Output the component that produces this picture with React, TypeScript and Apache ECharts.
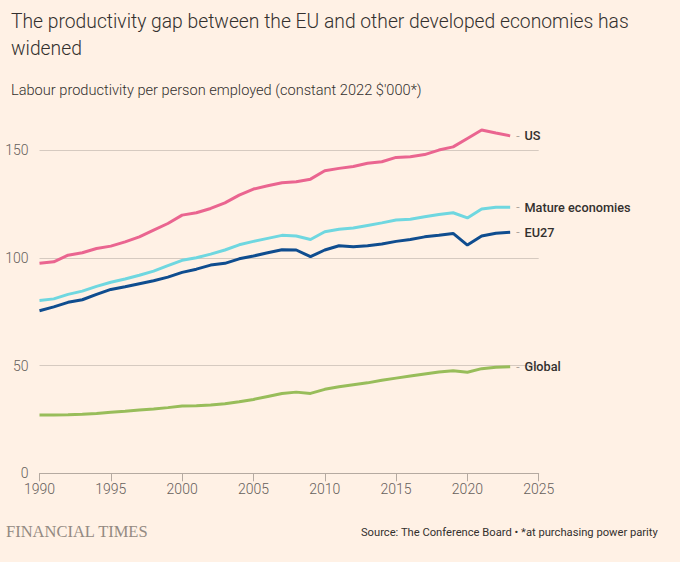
import React, { useEffect, useRef } from "react";
import * as echarts from "echarts";

const years = [
  1990, 1991, 1992, 1993, 1994, 1995, 1996, 1997, 1998, 1999, 2000, 2001, 2002, 2003, 2004, 2005, 2006,
  2007, 2008, 2009, 2010, 2011, 2012, 2013, 2014, 2015, 2016, 2017, 2018, 2019, 2020, 2021, 2022, 2023,
];
const usValues = [
  97.5, 98.2, 101.3, 102.4, 104.4, 105.5, 107.5, 109.8, 112.9, 116, 119.9, 121, 123, 125.6, 129.2, 132,
  133.5, 134.9, 135.4, 136.6, 140.5, 141.6, 142.5, 144, 144.7, 146.7, 147, 148, 150.1, 151.6, 155.5, 159.4,
  158, 156.7,
];
const matureValues = [
  80.3, 81, 83.1, 84.6, 86.8, 88.7, 90.2, 92, 93.9, 96.4, 98.9, 100.1, 101.8, 103.7, 106.1, 107.7, 109.1,
  110.5, 110.2, 108.6, 112.2, 113.3, 113.9, 115.1, 116.3, 117.6, 118, 119.1, 120.2, 121, 118.6, 122.7,
  123.5, 123.5,
];
const eu27Values = [
  75.5, 77.3, 79.4, 80.6, 83.1, 85.4, 86.6, 88, 89.4, 91.1, 93.3, 94.8, 96.7, 97.5, 99.6, 100.9, 102.4,
  103.8, 103.7, 100.6, 103.7, 105.7, 105.2, 105.7, 106.5, 107.7, 108.6, 109.8, 110.5, 111.4, 106, 110.2,
  111.5, 111.9,
];
const globalValues = [
  27.1, 27.1, 27.2, 27.4, 27.8, 28.3, 28.8, 29.4, 29.9, 30.5, 31.2, 31.4, 31.7, 32.3, 33.2, 34.3, 35.7,
  37.1, 37.7, 37.1, 39, 40.2, 41.1, 42, 43.2, 44.2, 45.2, 46.1, 47, 47.6, 46.9, 48.6, 49.2, 49.5,
];

const seriesNames = ["US", "Mature economies", "EU27", "Global"];
const seriesColors = ["#ea6590", "#6fd7e0", "#0f4d8f", "#98bd5a"];

const titleText = "The productivity gap between the EU and other developed economies has\nwidened";
const subtitleText = "Labour productivity per person employed (constant 2022 $'000*)";
const sourceText = "Source: The Conference Board \u2022 *at purchasing power parity";
const brandText = "FINANCIAL TIMES";

const FONT = "Roboto, 'Noto Sans', sans-serif";

export default function App() {
  const ref = useRef<HTMLDivElement>(null);
  useEffect(() => {
    if (!ref.current) return;
    const chart = echarts.init(ref.current, undefined, { renderer: "svg" });
    const allValues = [usValues, matureValues, eu27Values, globalValues];
    const series = seriesNames.map((name, i) => ({
      name,
      type: "line",
      data: years.map((y, j) => [y, allValues[i][j]]),
      showSymbol: false,
      clip: false,
      lineStyle: { color: seriesColors[i], width: 3 },
      itemStyle: { color: seriesColors[i] },
      emphasis: { disabled: true },
      endLabel: {
        show: true,
        distance: 6,
        formatter: () => `{d|-}{n|${name}}`,
        rich: {
          d: { color: "#b0a69d", fontSize: 12, fontFamily: FONT, padding: [0, 5, 0, 0] },
          n: { color: "#33302e", fontSize: 12.7, fontWeight: 500, fontFamily: FONT },
        },
      },
    }));
    chart.setOption({
      animation: false,
      backgroundColor: "#fff1e5",
      title: [
        {
          text: titleText,
          left: 6,
          top: 3,
          textStyle: { fontSize: 19.3, lineHeight: 27, fontWeight: 300, color: "#33302e", fontFamily: FONT },
        },
        {
          text: subtitleText,
          left: 6,
          top: 76,
          textStyle: { fontSize: 14.6, lineHeight: 18, fontWeight: 300, color: "#33302e", fontFamily: FONT },
        },
      ],
      grid: { left: 39.5, right: 141.3, top: 150.3, bottom: 88.7, containLabel: false },
      xAxis: {
        type: "value",
        min: 1990,
        max: 2025,
        interval: 5,
        axisLine: { show: true, lineStyle: { color: "#b5aaa1", width: 1 } },
        axisTick: { show: true, length: 8, lineStyle: { color: "#b5aaa1" } },
        axisLabel: { color: "#66605c", fontSize: 14, fontWeight: 300, fontFamily: FONT, margin: 9, formatter: (v: number) => String(v) },
        splitLine: { show: false },
      },
      yAxis: {
        type: "value",
        min: 0,
        max: 150,
        interval: 50,
        axisLine: { show: false },
        axisTick: { show: false },
        axisLabel: { color: "#66605c", fontSize: 14, fontWeight: 300, fontFamily: FONT, margin: 11 },
        splitLine: { show: true, lineStyle: { color: "#d6cac0", width: 1 } },
      },
      series,
      graphic: [
        {
          type: "text",
          left: 6,
          top: 523,
          style: { text: brandText, font: "16.5px 'Liberation Serif', 'DejaVu Serif', serif", fill: "#948a82" },
        },
        {
          type: "text",
          right: 22,
          top: 527,
          style: { text: sourceText, font: `11.2px ${FONT}`, fill: "#33302e" },
        },
      ],
    });
    return () => chart.dispose();
  }, []);
  return (
    <div
      ref={ref}
      style={{ position: "fixed", left: 0, top: 0, width: 680, height: 562, background: "#fff1e5" }}
    />
  );
}
